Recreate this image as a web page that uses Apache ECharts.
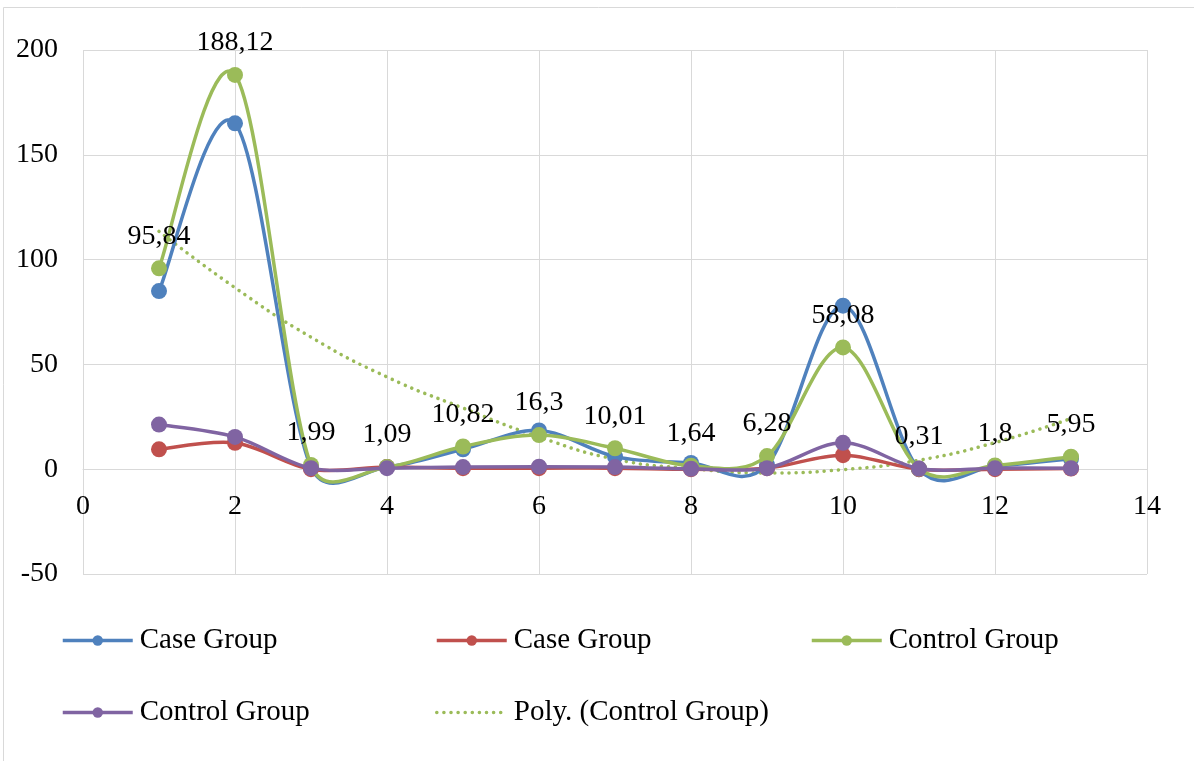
<!DOCTYPE html>
<html>
<head>
<meta charset="utf-8">
<script src="https://cdn.jsdelivr.net/npm/echarts@6/dist/echarts.min.js"></script>
<style>
  html, body { margin: 0; padding: 0; background: #ffffff; }
  #chart { width: 1194px; height: 761px; }
</style>
</head>
<body>
<div id="chart"></div>
<script>
// Measurement index (x) and the four group series
const xValues = [1, 2, 3, 4, 5, 6, 7, 8, 9, 10, 11, 12, 13];
const caseGroupA    = [85, 165, 1, 1, 9.5, 18.5, 6, 3, 2, 78, 0, 1.5, 5];
const caseGroupB    = [9.5, 12.6, 0, 1, 0.5, 0.5, 0.5, 0, 0.5, 6.7, 0, 0, 0.3];
const controlGroupA = [95.84, 188.12, 1.99, 1.09, 10.82, 16.3, 10.01, 1.64, 6.28, 58.08, 0.31, 1.8, 5.95];
const controlGroupB = [21.3, 15.4, 0.5, 0.5, 1, 1.2, 1, 0.2, 0.5, 12.6, 0.3, 0.5, 0.5];
// Polynomial trend of the control group, sampled at each index
const controlTrend  = [113.5, 86.6, 63, 44, 29.2, 15.4, 4.8, 0.3, -1.8, -0.2, 4.3, 12.7, 24.2];

const legendLabels = ['Case Group', 'Case Group', 'Control Group', 'Control Group', 'Poly. (Control Group)'];
const seriesKeys = ['s0', 's1', 's2', 's3', 's4'];

const yTicks = { min: -50, max: 200, step: 50 };
const xTicks = { min: 0, max: 14, step: 2 };

const FONT = '"Liberation Serif", "Times New Roman", serif';
const GRID_COLOR = '#d9d9d9';
const colors = ['#4f81bd', '#c0504d', '#9bbb59', '#8064a2'];
const LINE_W = 3.5;
const TREND_DASH = [0.1, 7];

const pairs = arr => xValues.map((x, i) => [x, arr[i]]);
const commaNum = v => String(v).replace('.', ',');

// Smoothed path through the projected points: cubic Bezier segments whose
// tangent at each point follows its neighbours (one sixth of the chord),
// with each control arm capped at half the length of its own segment.
function smoothPathData(api, values) {
  const pts = xValues.map((x, i) => api.coord([x, values[i]]));
  const n = pts.length;
  const dist = (a, b) => Math.hypot(b[0] - a[0], b[1] - a[1]);
  const arm = (v, segLen) => {
    let ax = v[0] / 6, ay = v[1] / 6;
    const len = Math.hypot(ax, ay);
    const cap = segLen / 2;
    if (len > cap && len > 0) { ax *= cap / len; ay *= cap / len; }
    return [ax, ay];
  };
  const cpIn = [], cpOut = [];
  for (let i = 0; i < n; i++) {
    const p = pts[i];
    const prev = pts[Math.max(i - 1, 0)];
    const next = pts[Math.min(i + 1, n - 1)];
    const v = [next[0] - prev[0], next[1] - prev[1]];
    const aIn = i > 0 ? arm(v, dist(prev, p)) : [0, 0];
    const aOut = i < n - 1 ? arm(v, dist(p, next)) : [0, 0];
    cpIn.push([p[0] - aIn[0], p[1] - aIn[1]]);
    cpOut.push([p[0] + aOut[0], p[1] + aOut[1]]);
  }
  let d = 'M' + pts[0][0] + ',' + pts[0][1];
  for (let i = 0; i < n - 1; i++) {
    d += ' C' + cpOut[i][0] + ',' + cpOut[i][1] + ' ' + cpIn[i + 1][0] + ',' + cpIn[i + 1][1] + ' ' + pts[i + 1][0] + ',' + pts[i + 1][1];
  }
  return d;
}

function curveSeries(idx, values) {
  return {
    name: 'curve' + idx,
    type: 'custom',
    data: pairs(values),
    silent: true,
    clip: false,
    z: 2 + idx * 2,
    renderItem: (params, api) => {
      if (params.dataIndex !== 0) return null;
      return {
        type: 'path',
        shape: { pathData: smoothPathData(api, values) },
        style: { fill: 'none', stroke: colors[idx], lineWidth: LINE_W, lineJoin: 'round', lineCap: 'round' }
      };
    }
  };
}

function markerSeries(idx, values, withLabels) {
  return {
    name: seriesKeys[idx],
    type: 'line',
    data: pairs(values),
    symbol: 'circle',
    symbolSize: 16,
    itemStyle: { color: colors[idx] },
    lineStyle: { color: colors[idx], width: LINE_W, opacity: 0 },
    label: withLabels ? {
      show: true,
      position: 'top',
      distance: 10,
      color: '#000',
      fontFamily: FONT,
      fontSize: 28,
      formatter: p => commaNum(p.value[1])
    } : { show: false },
    emphasis: { disabled: true },
    z: 3 + idx * 2
  };
}

const legendPos = [
  { left: 61, top: 626 },
  { left: 435, top: 626 },
  { left: 810, top: 626 },
  { left: 61, top: 698 },
  { left: 435, top: 698 }
];

const legendLine = i => i < 4
  ? { opacity: 1, width: LINE_W, color: colors[i] }
  : { opacity: 1, width: LINE_W, color: colors[2], type: TREND_DASH, cap: 'round' };

const chart = echarts.init(document.getElementById('chart'), null, { renderer: 'canvas' });

chart.setOption({
  animation: false,
  backgroundColor: '#ffffff',
  textStyle: { fontFamily: FONT },
  graphic: [
    { type: 'line', shape: { x1: 3.5, y1: 7.5, x2: 1194, y2: 7.5 }, style: { stroke: GRID_COLOR, lineWidth: 1 } },
    { type: 'line', shape: { x1: 3.5, y1: 7.5, x2: 3.5, y2: 761 }, style: { stroke: GRID_COLOR, lineWidth: 1 } }
  ],
  grid: { left: 83, top: 50, right: 47, bottom: 187, containLabel: false },
  legend: legendPos.map((pos, i) => ({
    left: pos.left,
    top: pos.top,
    data: [seriesKeys[i]],
    itemWidth: 70,
    itemHeight: 13,
    itemGap: 0,
    padding: 0,
    selectedMode: false,
    lineStyle: legendLine(i),
    itemStyle: i < 4 ? {} : { opacity: 0 },
    formatter: () => legendLabels[i],
    textStyle: { fontFamily: FONT, fontSize: 29, color: '#000', padding: [0, 0, 0, 2] }
  })),
  xAxis: {
    type: 'value',
    min: xTicks.min,
    max: xTicks.max,
    interval: xTicks.step,
    offset: -105,
    axisLine: { show: true, onZero: false, lineStyle: { color: GRID_COLOR, width: 1 } },
    axisTick: { show: false },
    splitLine: { show: true, lineStyle: { color: GRID_COLOR, width: 1 } },
    axisLabel: { color: '#000', fontFamily: FONT, fontSize: 28, margin: 24 }
  },
  yAxis: {
    type: 'value',
    min: yTicks.min,
    max: yTicks.max,
    interval: yTicks.step,
    axisLine: { show: false },
    axisTick: { show: false },
    splitLine: { show: true, lineStyle: { color: GRID_COLOR, width: 1 } },
    axisLabel: { color: '#000', fontFamily: FONT, fontSize: 28, margin: 25 }
  },
  series: [
    curveSeries(0, caseGroupA),
    markerSeries(0, caseGroupA, false),
    curveSeries(1, caseGroupB),
    markerSeries(1, caseGroupB, false),
    curveSeries(2, controlGroupA),
    markerSeries(2, controlGroupA, true),
    curveSeries(3, controlGroupB),
    markerSeries(3, controlGroupB, false),
    {
      name: seriesKeys[4],
      type: 'line',
      smooth: 0.5,
      data: pairs(controlTrend),
      symbol: 'none',
      itemStyle: { color: colors[2] },
      lineStyle: { color: colors[2], width: LINE_W, type: TREND_DASH, cap: 'round' },
      emphasis: { disabled: true },
      z: 1
    }
  ]
});
</script>
</body>
</html>
